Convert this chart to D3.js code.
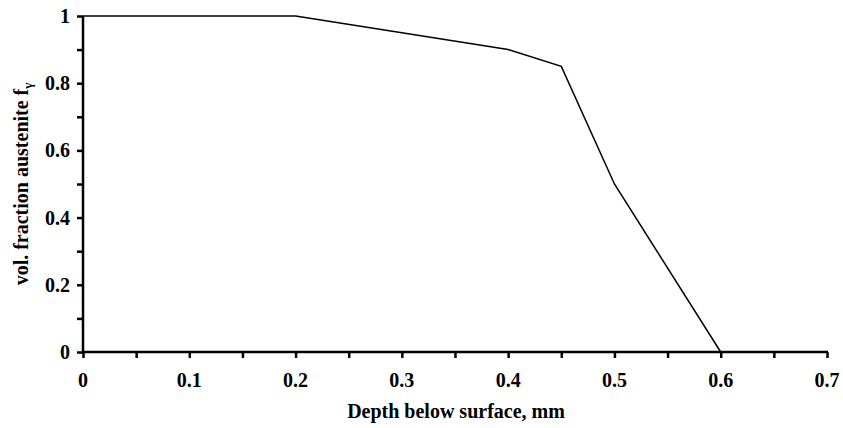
<!DOCTYPE html>
<html>
<head>
<meta charset="utf-8">
<script src="https://cdn.jsdelivr.net/npm/d3@7"></script>
<style>
body { margin: 0; background: #fff; }
text { font-family: "Liberation Serif", "Times New Roman", serif; font-weight: bold; fill: #000; }
</style>
</head>
<body>
<div id="chart"></div>
<script>
var depth = [0, 0.2, 0.4, 0.45, 0.5, 0.6];
var fraction = [1, 1, 0.9, 0.85, 0.5, 0];
var xTicks = [0, 0.1, 0.2, 0.3, 0.4, 0.5, 0.6, 0.7];
var yTicks = [0, 0.2, 0.4, 0.6, 0.8, 1];

var margin = {top: 16, right: 16, bottom: 76, left: 83},
	width = 843 - margin.left - margin.right,
	height = 428 - margin.top - margin.bottom;

var x = d3.scaleLinear().domain([0, 0.7]).range([0, width]);
var y = d3.scaleLinear().domain([0, 1]).range([height, 0]);

var svg = d3.select("#chart")
	.append("svg")
	.attr("width", 843)
	.attr("height", 428)
	.append("g")
	.attr("transform", "translate(" + margin.left + "," + margin.top + ")");

// minor ticks
var xMinor = d3.range(0, 0.7001, 0.05);
var yMinor = d3.range(0, 1.0001, 0.1);

svg.append("g")
	.attr("transform", "translate(0," + height + ")")
	.call(d3.axisBottom(x).tickValues(xMinor).tickSize(6).tickFormat(""))
	.call(function(g) { g.select(".domain").remove(); g.selectAll("line").attr("stroke-width", 2.5); });

svg.append("g")
	.call(d3.axisLeft(y).tickValues(yMinor).tickSize(6).tickFormat(""))
	.call(function(g) { g.select(".domain").remove(); g.selectAll("line").attr("stroke-width", 2.5); });

// axis lines
svg.append("line")
	.attr("x1", x(0) - 1).attr("x2", x(0.7) + 1)
	.attr("y1", y(0)).attr("y2", y(0))
	.attr("stroke", "#000").attr("stroke-width", 2.5);

svg.append("line")
	.attr("x1", x(0)).attr("x2", x(0))
	.attr("y1", y(0)).attr("y2", y(1))
	.attr("stroke", "#000").attr("stroke-width", 2.5);

// tick labels
svg.selectAll(".xlab")
	.data(xTicks)
	.enter()
	.append("text")
	.attr("class", "xlab")
	.attr("x", function(d) { return x(d); })
	.attr("y", height + 35)
	.attr("text-anchor", "middle")
	.style("font-size", "20px")
	.text(function(d) { return d; });

svg.selectAll(".ylab")
	.data(yTicks)
	.enter()
	.append("text")
	.attr("class", "ylab")
	.attr("x", -13)
	.attr("y", function(d) { return y(d) + 7; })
	.attr("text-anchor", "end")
	.style("font-size", "20px")
	.text(function(d) { return d; });

// axis titles
svg.append("text")
	.attr("x", 456 - margin.left)
	.attr("y", height + 66)
	.attr("text-anchor", "middle")
	.style("font-size", "20px")
	.text("Depth below surface, mm");

var yTitle = svg.append("text")
	.attr("transform", "translate(" + (28 - margin.left) + "," + (184 - margin.top) + ") rotate(-90)")
	.attr("text-anchor", "middle")
	.style("font-size", "20px");
yTitle.append("tspan").text("vol. fraction austenite f");
yTitle.append("tspan").attr("dy", 4).style("font-size", "13px").text("γ");

// data line
var line = d3.line()
	.x(function(d, i) { return x(depth[i]); })
	.y(function(d, i) { return y(fraction[i]); });

svg.append("path")
	.datum(fraction)
	.attr("d", line)
	.attr("fill", "none")
	.attr("stroke", "#000")
	.attr("stroke-width", 1.5);
</script>
</body>
</html>
